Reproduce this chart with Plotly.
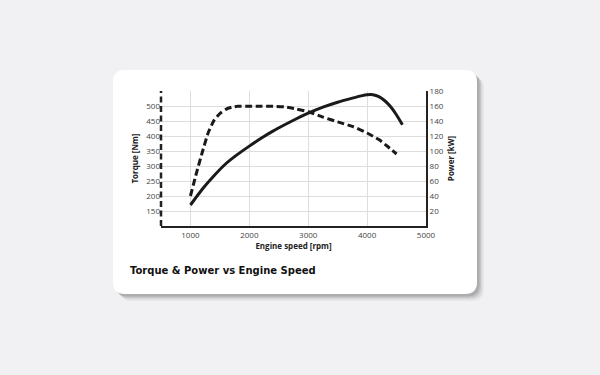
import plotly.graph_objects as go

# Data
torque_rpm = [1000, 1100, 1200, 1300, 1400, 1500, 1600, 1700, 1800, 2000, 2200, 2400, 2600, 2800, 3000, 3250, 3500, 3750, 4000, 4200, 4350, 4500]
torque_nm = [200, 275, 345, 410, 452, 475, 489, 496, 499, 499, 499, 499, 497, 490, 481, 463, 447, 432, 410, 388, 365, 340]

power_rpm = [1000, 1200, 1400, 1600, 1800, 2000, 2200, 2400, 2600, 2800, 3000, 3250, 3500, 3750, 3900, 4000, 4100, 4200, 4300, 4400, 4500, 4600]
power_kw = [28, 49, 67, 83, 95.5, 106.5, 117, 126.5, 135, 143, 150.5, 158.5, 165, 170.5, 173.5, 175, 175, 172.5, 167, 159, 148, 135]

x_ticks = [1000, 2000, 3000, 4000, 5000]
torque_ticks = [150, 200, 250, 300, 350, 400, 450, 500]
power_ticks = [20, 40, 60, 80, 100, 120, 140, 160, 180]

L, R, T, B = 161, 426, 91, 226
W, H = 600, 375
pw, ph = R - L, B - T

def px(x):
    return (x - L) / pw

def py(y):
    return (B - y) / ph

def rounded(x0, y0, x1, y1, r):
    rx, ry = r / pw, r / ph
    X0, X1 = px(x0), px(x1)
    Y0, Y1 = py(y0), py(y1)
    return (f"M {X0+rx},{Y0} L {X1-rx},{Y0} Q {X1},{Y0} {X1},{Y0-ry} "
            f"L {X1},{Y1+ry} Q {X1},{Y1} {X1-rx},{Y1} L {X0+rx},{Y1} "
            f"Q {X0},{Y1} {X0},{Y1+ry} L {X0},{Y0-ry} Q {X0},{Y0} {X0+rx},{Y0} Z")

fig = go.Figure()
fig.add_trace(go.Scatter(x=torque_rpm, y=torque_nm, mode="lines", yaxis="y",
                         line=dict(color="#1a1a1a", width=3, dash="7px,3.5px", shape="spline", smoothing=0.5),
                         name="Torque", hoverinfo="skip"))
fig.add_trace(go.Scatter(x=power_rpm, y=power_kw, mode="lines", yaxis="y2",
                         line=dict(color="#1a1a1a", width=3, shape="spline", smoothing=0.5),
                         name="Power", hoverinfo="skip"))

shapes = []
for off, op in [(7, 0.06), (5.5, 0.09), (4, 0.14), (2.5, 0.2)]:
    shapes.append(dict(type="path", xref="paper", yref="paper", layer="below",
                       path=rounded(113 + off, 70 + off, 477 + off, 294 + off, 12),
                       fillcolor=f"rgba(80,80,80,{op})", line=dict(width=0)))
shapes.append(dict(type="path", xref="paper", yref="paper", layer="below",
                   path=rounded(113, 70, 477, 294, 12),
                   fillcolor="white", line=dict(width=0)))
shapes.append(dict(type="line", xref="paper", yref="paper", x0=0, x1=0, y0=0, y1=1,
                   line=dict(color="#222", width=2.5, dash="6px,3.5px")))

fig.update_layout(
    width=W, height=H,
    margin=dict(l=L, r=W - R, t=T, b=H - B, pad=0),
    paper_bgcolor="#f1f1f3",
    plot_bgcolor="white",
    showlegend=False,
    shapes=shapes,
    font=dict(family="Open Sans", size=8, color="#333"),
    xaxis=dict(range=[500, 5000], tickvals=x_ticks, showgrid=True, gridcolor="#dddddd", gridwidth=1,
               showline=True, linecolor="#222", linewidth=2, ticks="", zeroline=False,
               title=dict(text="<b>Engine speed [rpm]</b>", font=dict(size=8, color="#222"), standoff=4),
               tickfont=dict(size=8, color="#444")),
    yaxis=dict(range=[100, 550], tickvals=torque_ticks, showgrid=True, gridcolor="#dddddd",
               showline=False, ticks="", zeroline=False,
               title=dict(text="<b>Torque [Nm]</b>", font=dict(size=8, color="#222"), standoff=6),
               tickfont=dict(size=8, color="#444")),
    yaxis2=dict(range=[0, 180], tickvals=power_ticks, overlaying="y", side="right", showgrid=False,
                showline=True, linecolor="#222", linewidth=2, ticks="", zeroline=False,
                title=dict(text="<b>Power [kW]</b>", font=dict(size=8, color="#222"), standoff=6),
                tickfont=dict(size=8, color="#444")),
    annotations=[dict(text="<b>Torque &amp; Power vs Engine Speed</b>", xref="paper", yref="paper",
                      x=px(128), y=py(270), xanchor="left", yanchor="middle", showarrow=False,
                      font=dict(family="DejaVu Sans", size=10, color="#111"))],
)

fig.write_html("out.html", config={"displayModeBar": False},
               post_script="document.body.style.margin='0';document.body.style.background='#f1f1f3';")
